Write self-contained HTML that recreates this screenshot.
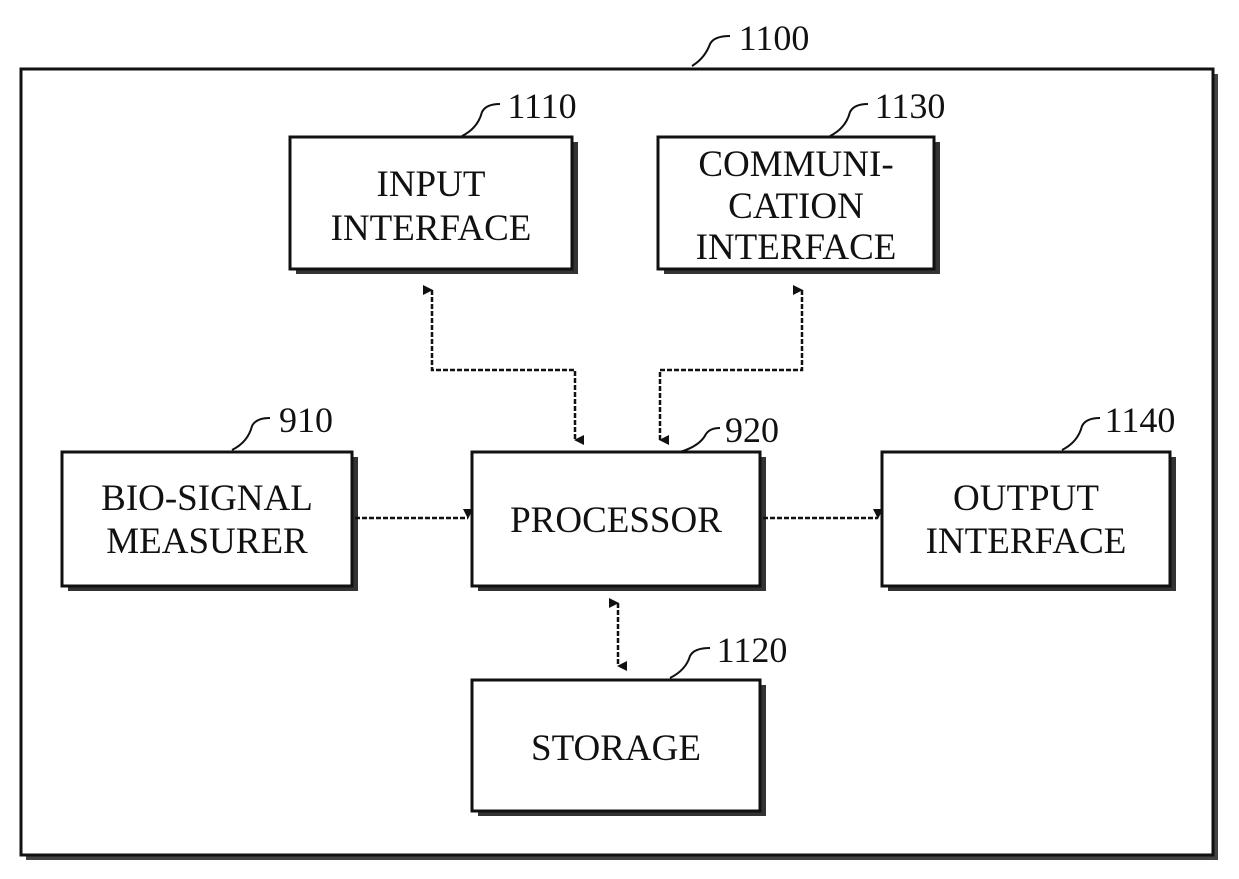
<!DOCTYPE html>
<html><head><meta charset="utf-8"><style>
html,body{margin:0;padding:0;background:#fff}
svg{display:block}
text{font-family:"Liberation Serif",serif;font-size:37px;fill:#111;text-anchor:middle}
</style></head><body>
<svg width="1239" height="879" viewBox="0 0 1239 879" xmlns="http://www.w3.org/2000/svg">
<defs>
<marker id="a" markerWidth="10" markerHeight="10" refX="5" refY="9" orient="auto-start-reverse" markerUnits="userSpaceOnUse" viewBox="0 0 10 10"><path d="M0,0 L10,0 L5,10 z" fill="#111"/></marker>
</defs>
<g fill="none" stroke="#111">
<!-- outer -->
<rect x="26" y="74" width="1192" height="786" fill="#444" stroke="none"/>
<rect x="21" y="69" width="1192" height="786" fill="#fff" stroke-width="3"/>
<!-- boxes with shadows -->
<g stroke="none" fill="#333">
<rect x="296" y="142" width="282" height="132"/>
<rect x="664" y="142" width="276" height="132"/>
<rect x="68" y="457" width="290" height="134"/>
<rect x="478" y="457" width="288" height="134"/>
<rect x="888" y="457" width="288" height="134"/>
<rect x="478" y="685" width="288" height="131"/>
</g>
<g fill="#fff" stroke-width="3">
<rect x="290" y="137" width="282" height="132"/>
<rect x="658" y="137" width="276" height="132"/>
<rect x="62" y="452" width="290" height="134"/>
<rect x="472" y="452" width="288" height="134"/>
<rect x="882" y="452" width="288" height="134"/>
<rect x="472" y="680" width="288" height="131"/>
</g>
<g stroke-width="2.5" stroke-dasharray="5,2">
<path d="M432 290 V370 H575 V440" marker-start="url(#a)" marker-end="url(#a)"/>
<path d="M802 290 V370 H660 V440" marker-start="url(#a)" marker-end="url(#a)"/>
<path d="M355 518 H468" marker-end="url(#a)"/>
<path d="M763 518 H878" marker-end="url(#a)"/>
<path d="M618 603 V666" marker-start="url(#a)" marker-end="url(#a)"/>
</g>
<!-- leaders -->
<g stroke-width="2">
<path d="M692 66 Q705 58 710 44 Q714 36 730 36"/>
<path d="M462 136 Q478 128 482 112 Q486 104 500 104"/>
<path d="M830 136 Q846 128 850 112 Q854 104 868 104"/>
<path d="M232 450 Q248 442 252 426 Q256 418 270 418"/>
<path d="M680 452 Q700 446 706 434 Q710 428 720 428"/>
<path d="M1062 450 Q1078 442 1082 426 Q1086 418 1100 418"/>
<path d="M670 678 Q686 670 690 656 Q694 648 710 648"/>
</g>
</g>
<text x="774" y="50" style="font-size:36px">1100</text>
<text x="542" y="118" style="font-size:36px">1110</text>
<text x="910" y="118" style="font-size:36px">1130</text>
<text x="306" y="432" style="font-size:36px">910</text>
<text x="752" y="442" style="font-size:36px">920</text>
<text x="1140" y="432" style="font-size:36px">1140</text>
<text x="752" y="662" style="font-size:36px">1120</text>
<text x="431" y="196">INPUT</text>
<text x="431" y="240">INTERFACE</text>
<text x="796" y="176">COMMUNI-</text>
<text x="796" y="218">CATION</text>
<text x="796" y="259">INTERFACE</text>
<text x="207" y="510">BIO-SIGNAL</text>
<text x="207" y="553">MEASURER</text>
<text x="616" y="532">PROCESSOR</text>
<text x="1026" y="510">OUTPUT</text>
<text x="1026" y="553">INTERFACE</text>
<text x="616" y="760">STORAGE</text>
</svg>
</body></html>
